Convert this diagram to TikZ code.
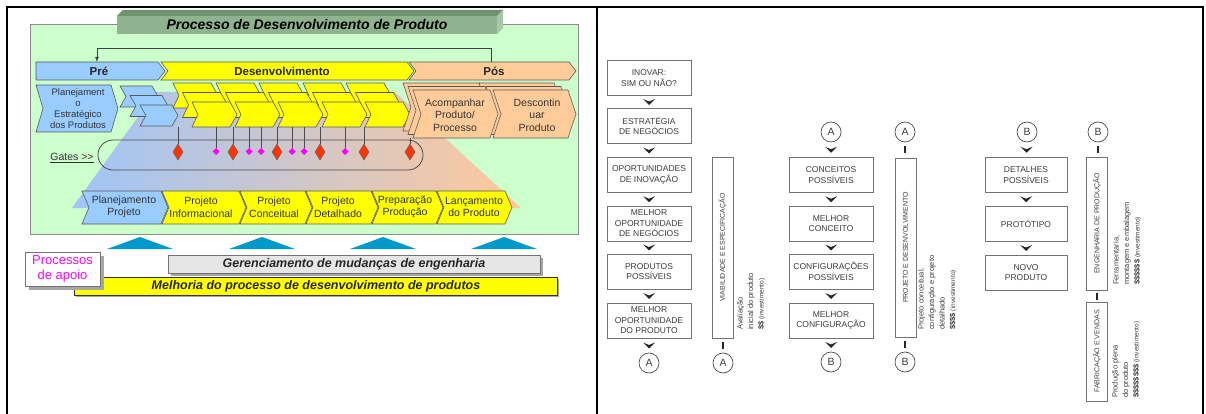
\documentclass[tikz,border=0pt]{standalone}
\usepackage{fontspec}
\setmainfont{Liberation Sans}
\usetikzlibrary{shapes}
\usetikzlibrary{math}
\usetikzlibrary{calc}

\definecolor{paleGreen}{HTML}{CCFFCC}
\definecolor{bannerFace}{HTML}{8FB38F}
\definecolor{bannerTop}{HTML}{6F936F}
\definecolor{bannerSide}{HTML}{A8C8A8}
\definecolor{phaseBlue}{HTML}{99CCFF}
\definecolor{phaseYellow}{HTML}{FFFF00}
\definecolor{phasePeach}{HTML}{FFCC99}
\definecolor{shadeBlue}{HTML}{9FC5F8}
\definecolor{shadePeach}{HTML}{FFC89C}
\definecolor{gateRed}{HTML}{FF3300}
\definecolor{gateMagenta}{HTML}{FF00FF}
\definecolor{supportBlue}{HTML}{0099CC}
\definecolor{boxGray}{HTML}{E6E6E6}
\definecolor{inkGray}{HTML}{3C3C3C}

% chevron: style, x, y, width, height, point, notch
\newcommand{\chevron}[7]{%
  \draw[#1] (#2,#3) -- (#2+#4-#6,#3) -- (#2+#4,#3+#5/2) -- (#2+#4-#6,#3+#5) -- (#2,#3+#5) -- (#2+#7,#3+#5/2) -- cycle;}

\begin{document}
\begin{tikzpicture}[x=1pt, y=-1pt,
    chev/.style={draw=black!65, line width=0.6pt},
    phaselabel/.style={font=\bfseries\fontsize{11.5}{13}\selectfont, text=black!85},
    steplabel/.style={font=\fontsize{10.5}{12.5}\selectfont, align=center, text=black!80},
    banner/.style={font=\bfseries\itshape\fontsize{12.5}{14}\selectfont, text=black!85},
    gateline/.style={draw=black!70, line width=0.7pt},
    gatemark/.style={draw=black!60, fill=gateRed, line width=0.5pt},
    flowbox/.style={draw=black!55, line width=0.7pt, fill=white, minimum width=84pt, minimum height=35pt, inner sep=0pt, align=center, text=inkGray, font=\fontsize{8.5}{10.5}\selectfont},
    stagebar/.style={draw=black!55, line width=0.7pt, fill=white, minimum height=21pt, inner sep=0pt, rotate=90, text=inkGray, font=\fontsize{7}{8}\selectfont},
    stagenote/.style={rotate=90, anchor=north west, align=left, inner sep=0pt, text=inkGray, font=\fontsize{7.5}{10.5}\selectfont},
    flowlink/.style={circle, draw=black!70, line width=0.7pt, minimum size=20pt, inner sep=0pt, text=inkGray, font=\fontsize{10.5}{10.5}\selectfont},
    pics/flowtip/.style={code={\fill[black!85] (-6,-3) -- (0,3) -- (6,-3) -- (0,-0.5) -- cycle;}},
    pics/flowtick/.style={code={\draw[black!85, line width=2pt] (0,-3.5) -- (0,3.5);}}]

    \useasboundingbox (0,0) rectangle (1206,414);
    \tikzmath{\gateTop = 144; \gateMid = 152; \gateLow = 160;};

    % frame
    \draw[line width=2pt] (7,414) -- (7,7) -- (1203,7) -- (1203,414);
    \draw[line width=2pt] (597,7) -- (597,414);

    % ---- left panel ----
    \draw[draw=black!45, fill=paleGreen, line width=1pt] (30,25) rectangle (578,234);
    \fill[bannerTop] (117,16) -- (123,10) -- (503,10) -- (497,16) -- cycle;
    \fill[bannerSide] (497,16) -- (503,10) -- (503,28) -- (497,34) -- cycle;
    \fill[bannerFace] (117,16) rectangle (497,34);
    \node[font=\bfseries\itshape\fontsize{14}{16}\selectfont] (title) at (307,25) {Processo de Desenvolvimento de Produto};

    \shade[left color=shadeBlue, right color=shadePeach] (156,92) -- (395,92) -- (521,208) -- (72,208) -- cycle;

    % phases
    \chevron{chev,fill=phaseBlue}{36}{62}{129}{18}{7}{0}
    \chevron{chev,fill=phaseYellow}{161}{62}{253}{18}{7}{7}
    \chevron{chev,fill=phasePeach}{409}{62}{167}{18}{7}{7}
    \node[phaselabel] (pre) at (99,71) {Pré};
    \node[phaselabel] (desenv) at (282,71) {Desenvolvimento};
    \node[phaselabel] (pos) at (494,71) {Pós};

    \coordinate (loopStart) at (491,62);
    \coordinate (loopEnd) at (97,62);
    \draw[black!75, line width=0.8pt, -latex] (loopStart) -- (491,48) -- (97,48) -- (loopEnd);

    \chevron{chev,fill=phaseBlue}{36}{85}{82}{47}{7}{7}
    \node[steplabel, font=\fontsize{9.5}{11}\selectfont] (estrat) at (78,109) {Planejament\\o\\Estratégico\\dos Produtos};

    \foreach \k in {2,1,0} {\chevron{chev,fill=phaseBlue}{140-10*\k}{105-9.5*\k}{38}{21}{6}{6}}
    \foreach \k in {2,1,0} {
      \foreach \c in {192,235,278,322,365} {
        \chevron{chev,fill=phaseYellow}{\c-9.5*\k}{102-9.5*\k}{45}{25}{7}{6}
      }
    }
    \foreach \k in {2,1,0} {
      \chevron{chev,fill=phasePeach}{413-5*\k}{90-3.5*\k}{85}{48}{8}{8}
      \chevron{chev,fill=phasePeach}{493-7*\k}{90-3.5*\k}{83}{48}{8}{8}
    }
    \node[steplabel] (acomp) at (455,115) {Acompanhar\\Produto/\\Processo};
    \node[steplabel] (descont) at (537,115) {Descontin\\uar\\Produto};

    % gates
    \draw[black!70, line width=0.8pt, rounded corners=15pt] (98,140) rectangle (423,170);
    \node[font=\fontsize{10.5}{12}\selectfont, text=black!80] (gates) at (72,158) {\underline{Gates >\kern0pt>}};
    \foreach \gx in {178,233,277,320,364} \draw[gateline] (\gx,127) -- (\gx,\gateTop);
    \draw[gateline] (410,138) -- (410,\gateTop);
    \foreach \gx in {216,249,261,292,304,345} \draw[gateline] (\gx,127) -- (\gx,148);
    \foreach \gx in {178,233,277,320,364,410} \draw[gatemark] (\gx,\gateTop) -- (\gx+5,\gateMid) -- (\gx,\gateLow) -- (\gx-5,\gateMid) -- cycle;
    \foreach \gx in {216,249,261,292,304,345} \fill[gateMagenta] (\gx,148) -- (\gx+3.5,151.5) -- (\gx,155) -- (\gx-3.5,151.5) -- cycle;

    % project phases
    \chevron{chev,fill=phaseBlue}{82}{191}{86}{33}{7}{7}
    \foreach \s/\w in {162/84,240/72,306/72,372/71,437/75} {\chevron{chev,fill=phaseYellow}{\s}{191}{\w}{33}{7}{7}}
    \node[steplabel] (planproj) at (124,207) {Planejamento\\Projeto};
    \node[steplabel] (projinf) at (201,207) {Projeto\\Informacional};
    \node[steplabel] (projconc) at (274,207) {Projeto\\Conceitual};
    \node[steplabel] (projdet) at (338,207) {Projeto\\Detalhado};
    \node[steplabel] (prepprod) at (405,207) {Preparação\\Produção};
    \node[steplabel] (lanc) at (474,207) {Lançamento\\do Produto};

    % support
    \foreach \tx in {140,262,383,504} \fill[supportBlue] (\tx-33,249) -- (\tx,237) -- (\tx+33,249) -- cycle;
    \fill[black!35] (171,258) rectangle (543,276);
    \draw[black!55, fill=boxGray] (168,255) rectangle (540,273);
    \node[banner] (gerenc) at (354,264) {Gerenciamento de mudanças de engenharia};
    \fill[black!35] (76,279) rectangle (559,297);
    \draw[black!80, fill=phaseYellow] (74,277) rectangle (557,295);
    \node[banner] (melhoria) at (316,286) {Melhoria do processo de desenvolvimento de produtos};
    \fill[black!35] (29,256) rectangle (104,290);
    \draw[black!55, fill=white] (25,252) rectangle (100,286);
    \node[font=\fontsize{13}{15}\selectfont, text=gateMagenta, align=center] (apoio) at (62.5,269) {Processos\\de apoio};

    % ---- right panel ----
    \node[flowbox] (inovar) at (649,78) {INOVAR:\\SIM OU NÃO?};
    \node[flowbox] (estrneg) at (649,126) {ESTRATÉGIA\\DE NEGÓCIOS};
    \node[flowbox] (oportinov) at (649,175) {OPORTUNIDADES\\DE INOVAÇÃO};
    \node[flowbox] (melhneg) at (649,223.5) {MELHOR\\OPORTUNIDADE\\DE NEGÓCIOS};
    \node[flowbox] (prodposs) at (649,271.5) {PRODUTOS\\POSSÍVEIS};
    \node[flowbox] (melhprod) at (649,320.5) {MELHOR\\OPORTUNIDADE\\DO PRODUTO};
    \node[flowlink] (linkA1) at (649,363) {A};
    \foreach \u/\v in {inovar/estrneg,estrneg/oportinov,oportinov/melhneg,melhneg/prodposs,prodposs/melhprod,melhprod/linkA1}
      \pic at ($(\u.south)!0.5!(\v.north)$) {flowtip};

    \node[stagebar, minimum width=181pt] (viab) at (722.5,247.5) {VIABILIDADE E ESPECIFICAÇÃO};
    \node[flowlink] (linkA2) at (723,363) {A};
    \pic at ($(viab.west)!0.5!(linkA2.north)$) {flowtick};
    \node[stagenote] (viabnote) at (737,330) {Avaliação\\inicial do produto\\\textbf{\$\$} {\fontsize{6.5}{10.5}\selectfont(investimento)}};

    \node[flowlink] (linkA3) at (831,132) {A};
    \node[flowbox] (concposs) at (831,175) {CONCEITOS\\POSSÍVEIS};
    \node[flowbox] (melhconc) at (831,223.5) {MELHOR\\CONCEITO};
    \node[flowbox] (confposs) at (831,271.5) {CONFIGURAÇÕES\\POSSÍVEIS};
    \node[flowbox] (melhconf) at (831,320.5) {MELHOR\\CONFIGURAÇÃO};
    \node[flowlink] (linkB1) at (831,362) {B};
    \foreach \u/\v in {linkA3/concposs,concposs/melhconc,melhconc/confposs,confposs/melhconf,melhconf/linkB1}
      \pic at ($(\u.south)!0.5!(\v.north)$) {flowtip};

    \node[flowlink] (linkA4) at (905,132) {A};
    \node[stagebar, minimum width=179pt] (projdes) at (905.5,247.5) {PROJETO E DESENVOLVIMENTO};
    \node[flowlink] (linkB2) at (905,362) {B};
    \pic at ($(linkA4.south)!0.5!(projdes.east)$) {flowtick};
    \pic at ($(projdes.west)!0.5!(linkB2.north)$) {flowtick};
    \node[stagenote] (projnote) at (918,330) {Projeto conceitual,\\configuração e projeto\\detalhado\\\textbf{\$\$\$\$} {\fontsize{6.5}{10.5}\selectfont(investimento)}};

    \node[flowlink] (linkB3) at (1027,132) {B};
    \node[flowbox, minimum width=82pt] (detposs) at (1026,175) {DETALHES\\POSSÍVEIS};
    \node[flowbox, minimum width=82pt] (prototipo) at (1026,223.5) {PROTÓTIPO};
    \node[flowbox, minimum width=82pt] (novoprod) at (1026,272.5) {NOVO\\PRODUTO};
    \foreach \u/\v in {linkB3/detposs,detposs/prototipo,prototipo/novoprod}
      \pic at ($(\u.south)!0.5!(\v.north)$) {flowtip};

    \node[flowlink] (linkB4) at (1098,132) {B};
    \node[stagebar, minimum width=133pt] (engprod) at (1097,223.5) {ENGENHARIA DE PRODUÇÃO};
    \node[stagebar, minimum width=99pt] (fabvend) at (1097,351.5) {FABRICAÇÃO E VENDAS};
    \pic at ($(linkB4.south)!0.5!(engprod.east)$) {flowtick};
    \pic at ($(engprod.west)!0.5!(fabvend.east)$) {flowtick};
    \node[stagenote] (engnote) at (1113,285) {Ferramentaria,\\montagem e embalagem\\\textbf{\$\$\$\$\$\$} {\fontsize{6.5}{10.5}\selectfont(investimento)}};
    \node[stagenote] (fabnote) at (1112,398) {Produção plena\\do produto\\\textbf{\$\$\$\$\$\$\$\$} {\fontsize{6.5}{10.5}\selectfont(investimento)}};

\end{tikzpicture}
\end{document}
